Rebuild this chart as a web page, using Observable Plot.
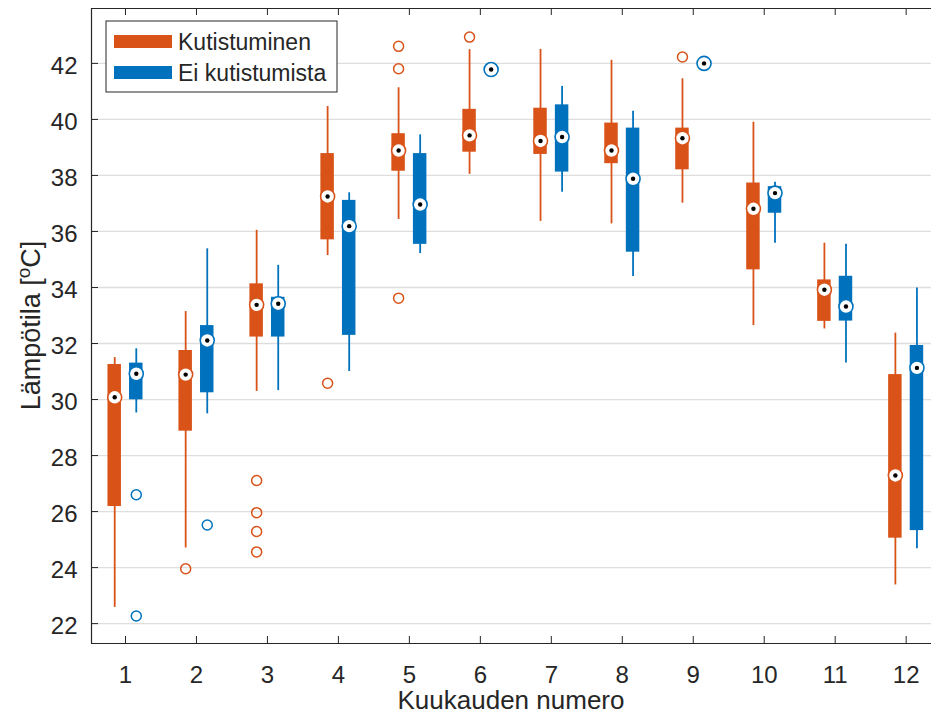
<!DOCTYPE html>
<html><head><meta charset="utf-8">
<script src="https://cdn.jsdelivr.net/npm/d3@7"></script>
<script src="https://cdn.jsdelivr.net/npm/@observablehq/plot@0.6"></script>
<style>body{margin:0;background:#fff}</style>
</head><body><div id="chart"></div>
<script>
// ---- data ----
const months = [1, 2, 3, 4, 5, 6, 7, 8, 9, 10, 11, 12];
const seriesNames = ["Kutistuminen", "Ei kutistumista"];
const seriesColors = ["#D95319", "#0072BD"];

// Kutistuminen (orange)
const kMed = [30.08, 30.89, 33.38, 37.25, 38.89, 39.43, 39.23, 38.89, 39.33, 36.81, 33.92, 27.29];
const kQ1  = [26.18, 28.87, 32.23, 35.70, 38.15, 38.83, 38.75, 38.42, 38.20, 34.63, 32.79, 25.05];
const kQ3  = [31.25, 31.75, 34.13, 38.78, 39.49, 40.36, 40.40, 39.87, 39.69, 37.73, 34.27, 30.89];
const kLo  = [22.58, 24.70, 30.29, 35.14, 36.43, 38.04, 36.36, 36.27, 37.01, 32.64, 32.52, 23.38];
const kHi  = [31.50, 33.14, 36.04, 40.46, 41.13, 42.49, 42.50, 42.11, 41.45, 39.90, 35.58, 32.37];
const kOutMonth = [2, 3, 3, 3, 3, 4, 5, 5, 5, 6, 9];
const kOutValue = [23.96, 27.11, 25.96, 25.29, 24.56, 30.58, 42.61, 41.81, 33.62, 42.94, 42.23];

// Ei kutistumista (blue)
const eMed = [30.92, 32.11, 33.42, 36.19, 36.96, 41.78, 39.37, 37.88, 42.00, 37.37, 33.32, 31.13];
const eQ1  = [29.99, 30.24, 32.23, 32.29, 35.54, 41.78, 38.12, 35.26, 42.00, 36.65, 32.80, 25.32];
const eQ3  = [31.30, 32.64, 33.65, 37.11, 38.78, 41.78, 40.52, 39.69, 42.00, 37.60, 34.40, 31.93];
const eLo  = [29.52, 29.49, 30.32, 31.00, 35.21, 41.78, 37.40, 34.39, 42.00, 35.58, 31.30, 24.67];
const eHi  = [31.81, 35.38, 34.79, 37.38, 39.45, 41.78, 41.18, 40.29, 42.00, 37.76, 35.54, 33.98];
const eOutMonth = [1, 1, 2];
const eOutValue = [26.60, 22.27, 25.52];

const xTicks = months;
const yTicks = [22, 24, 26, 28, 30, 32, 34, 36, 38, 40, 42];
const xLabel = "Kuukauden numero";
const yLabelParts = ["Lämpötila [", "o", "C]"];

// ---- layout ----
const W = 931, H = 716, mL = 91, mR = 0, mT = 8, mB = 73;
const plotW = W - mL - mR, plotH = H - mT - mB;
const xDomain = [0.521, 12.357];
const yDomain = [21.29, 43.96];
const groupOffset = 0.152, halfW = 0.095;
const ink = "#262626";

const series = [
  {name: seriesNames[0], off: -groupOffset, med: kMed, q1: kQ1, q3: kQ3, lo: kLo, hi: kHi, om: kOutMonth, ov: kOutValue},
  {name: seriesNames[1], off: groupOffset, med: eMed, q1: eQ1, q3: eQ3, lo: eLo, hi: eHi, om: eOutMonth, ov: eOutValue}
];
const boxes = series.flatMap(s => months.map((m, i) => ({
  group: s.name, x: m + s.off, med: s.med[i], q1: s.q1[i], q3: s.q3[i], lo: s.lo[i], hi: s.hi[i]
})));
const outliers = series.flatMap(s => s.om.map((m, i) => ({group: s.name, x: m + s.off, v: s.ov[i]})));

const svg = Plot.plot({
  width: W, height: H,
  marginLeft: mL, marginRight: mR, marginTop: mT, marginBottom: mB,
  style: {fontFamily: "'Liberation Sans', Arial, sans-serif", fontSize: "24px", color: ink, background: "white"},
  x: {type: "linear", domain: xDomain},
  y: {type: "linear", domain: yDomain},
  color: {domain: seriesNames, range: seriesColors},
  marks: [
    Plot.ruleY(yTicks, {stroke: "#dedede", strokeWidth: 1.3}),
    Plot.ruleX(boxes, {x: "x", y1: "lo", y2: "hi", stroke: "group", strokeWidth: 1.8}),
    Plot.rect(boxes, {x1: d => d.x - halfW, x2: d => d.x + halfW, y1: "q1", y2: "q3", fill: "group"}),
    Plot.dot(outliers, {x: "x", y: "v", stroke: "group", r: 5, strokeWidth: 1.5}),
    Plot.dot(boxes, {x: "x", y: "med", r: 7, fill: "white", stroke: "group", strokeWidth: 1.6}),
    Plot.dot(boxes, {x: "x", y: "med", r: 2.2, fill: "black"}),
    Plot.ruleX([xDomain[0]], {stroke: ink, strokeWidth: 1.2}),
    Plot.ruleY(yDomain, {stroke: ink, strokeWidth: 1.2}),
    Plot.ruleX(xTicks, {insetTop: plotH - 7, stroke: ink}),
    Plot.ruleX(xTicks, {insetBottom: plotH - 7, stroke: ink}),
    Plot.ruleY(yTicks, {insetRight: plotW - 7, stroke: ink}),
    Plot.axisX(xTicks, {tickSize: 0, tickPadding: 22, label: null, fontSize: 24}),
    Plot.axisY(yTicks, {tickSize: 0, tickPadding: 14, dy: 3, label: null, fontSize: 24})
  ]
});
document.getElementById("chart").appendChild(svg);

const s = d3.select(svg);
const font = "'Liberation Sans', Arial, sans-serif";
// x label
s.append("text").attr("x", mL + plotW / 2).attr("y", 709).attr("text-anchor", "middle")
  .attr("font-family", font).attr("font-size", 26).attr("fill", ink).text(xLabel);
// y label with superscript
const yl = s.append("text").attr("transform", `translate(31,${mT + plotH / 2}) rotate(-90)`)
  .attr("text-anchor", "middle").attr("dy", "0.35em")
  .attr("font-family", font).attr("font-size", 27).attr("fill", ink);
yl.append("tspan").text(yLabelParts[0]);
yl.append("tspan").attr("font-size", 19).attr("dy", -10).text(yLabelParts[1]);
yl.append("tspan").attr("dy", 10).text(yLabelParts[2]);

// legend
const lg = s.append("g").attr("text-anchor", "start");
lg.append("rect").attr("x", 106).attr("y", 21).attr("width", 231).attr("height", 71)
  .attr("fill", "white").attr("stroke", ink).attr("stroke-width", 1);
seriesNames.forEach((n, i) => {
  const cy = 41.5 + i * 31;
  lg.append("rect").attr("x", 114).attr("y", cy - 6.5).attr("width", 58).attr("height", 13).attr("fill", seriesColors[i]);
  lg.append("text").attr("x", 178).attr("y", cy).attr("dy", "0.35em").attr("text-anchor", "start")
    .attr("font-family", font).attr("font-size", 23).attr("fill", ink).text(n);
});
</script>
</body></html>
